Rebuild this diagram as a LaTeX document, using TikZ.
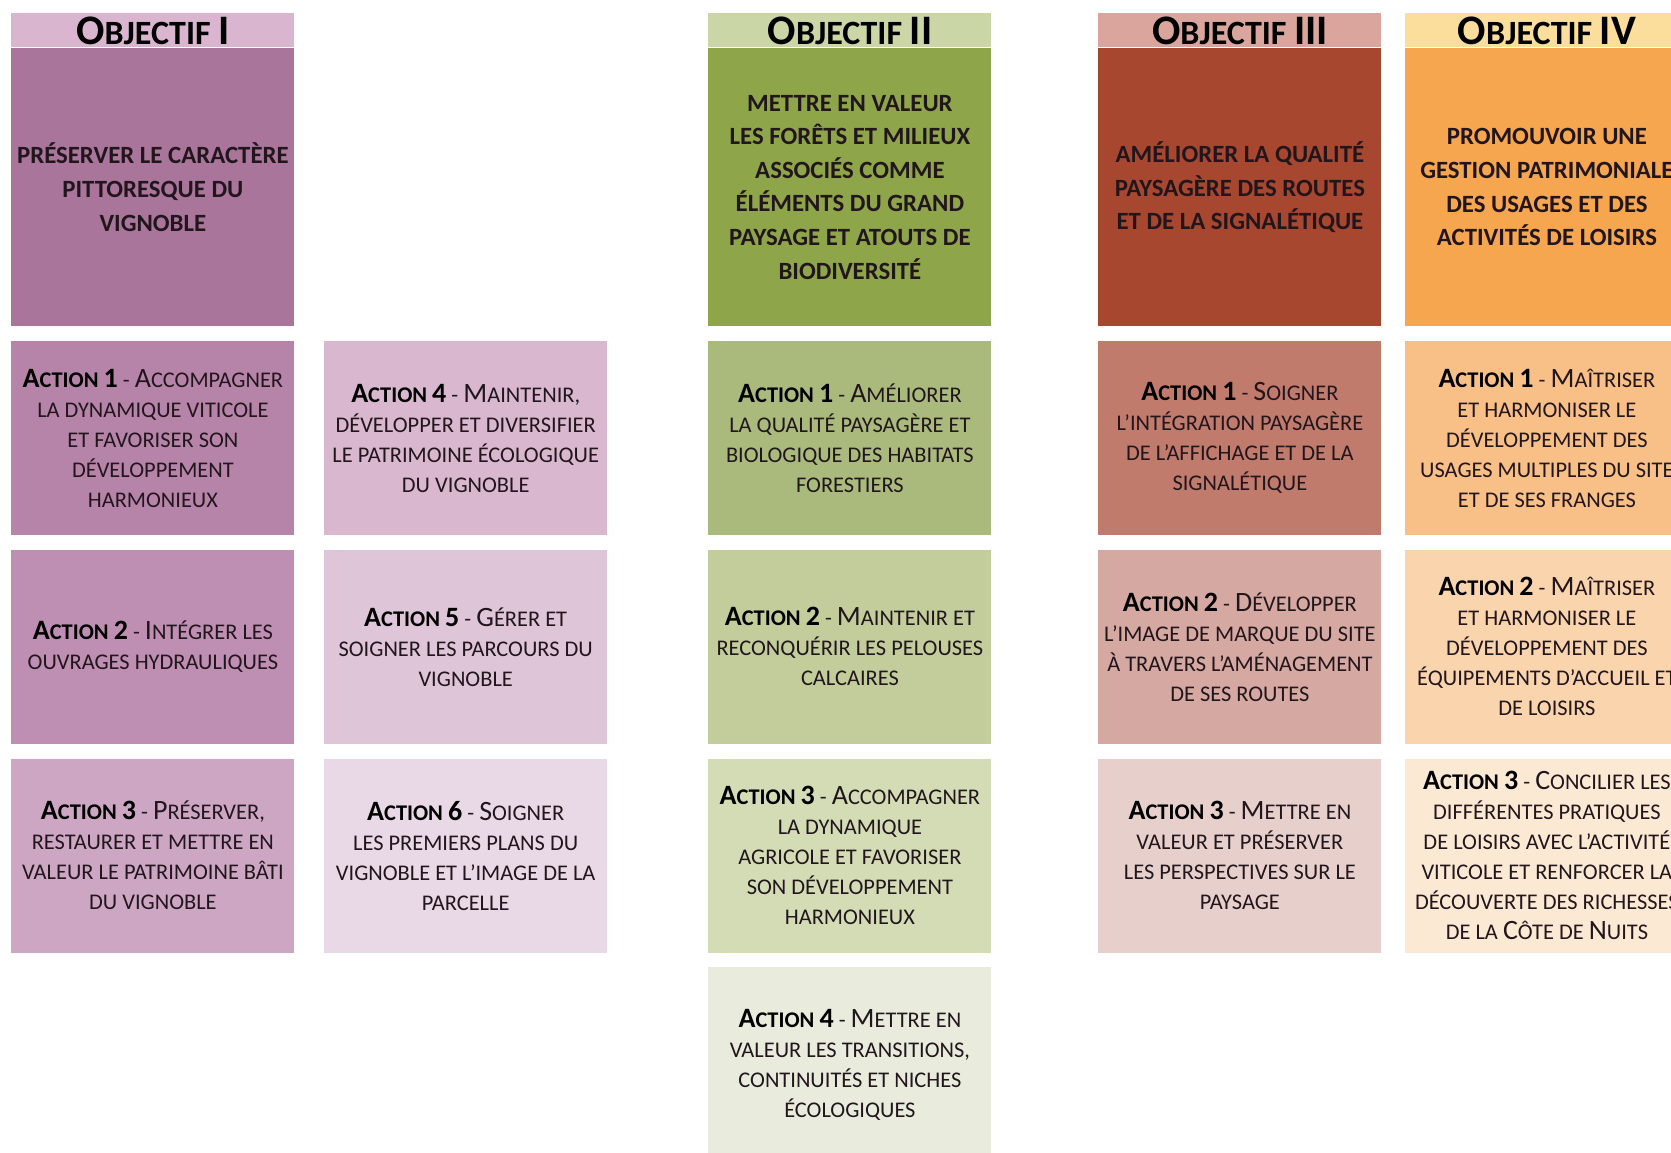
\documentclass[tikz,border=0pt]{standalone}
\usepackage{fontspec}
\setmainfont{Carlito}
\usetikzlibrary{positioning}
\definecolor{mauvehead}{HTML}{D9B5CF}
\definecolor{mauvemain}{HTML}{A9759B}
\definecolor{mauvea}{HTML}{B784A9}
\definecolor{mauveb}{HTML}{BE8FB2}
\definecolor{mauvec}{HTML}{CDA6C4}
\definecolor{mauved}{HTML}{D8B7CF}
\definecolor{mauvee}{HTML}{DEC5D8}
\definecolor{mauvef}{HTML}{E9D8E5}
\definecolor{greenhead}{HTML}{CAD6A5}
\definecolor{greenmain}{HTML}{8FA54A}
\definecolor{greena}{HTML}{A9BA7C}
\definecolor{greenb}{HTML}{C2CD9B}
\definecolor{greenc}{HTML}{D4DCB5}
\definecolor{greend}{HTML}{E9ECDD}
\definecolor{rusthead}{HTML}{D9A59C}
\definecolor{rustmain}{HTML}{A8472F}
\definecolor{rusta}{HTML}{C17B6C}
\definecolor{rustb}{HTML}{D5A9A1}
\definecolor{rustc}{HTML}{E7D0CC}
\definecolor{orangehead}{HTML}{FBDE9B}
\definecolor{orangemain}{HTML}{F6A64F}
\definecolor{orangea}{HTML}{F8BF86}
\definecolor{orangeb}{HTML}{FAD4AD}
\definecolor{orangec}{HTML}{FCE9D3}
\definecolor{inktext}{HTML}{22161D}
% small caps by hand: boxes are set in the small size, \ini gives a full capital
\newcommand{\ini}[1]{{\capsize #1}}
\newcommand{\act}[2]{{\bfseries\color{black}\ini{A}CTION \ini{#1}} - #2}

\begin{document}
\begin{tikzpicture}[
    x=0.5pt, y=-0.5pt,
    node distance=7pt,
    head/.style={minimum width=141.5pt, minimum height=17pt, inner sep=0pt, anchor=north west, font=\fontsize{17}{17}\selectfont\bfseries\def\capsize{\fontsize{21}{17}\selectfont}, text=black},
    objbox/.style={minimum width=141.5pt, minimum height=139pt, inner sep=0pt, align=center, font=\fontsize{12.4}{16.8}\selectfont\bfseries, text=inktext},
    actbox/.style={minimum width=141.5pt, minimum height=97pt, inner sep=0pt, align=center, font=\fontsize{11.2}{15}\selectfont\def\capsize{\fontsize{14}{15}\selectfont}, text=inktext}
]
    \clip (0,0) rectangle (1671,1152);
    \fill[white] (0,0) rectangle (1671,1152);

    % objectif I
    \node[head, fill=mauvehead] (head1) at (11,13) {\ini{O}BJECTIF \ini{I}};
    \node[objbox, fill=mauvemain, below=0pt of head1] (obj1) {PRÉSERVER LE CARACTÈRE\\PITTORESQUE DU\\VIGNOBLE};
    \node[actbox, fill=mauvea, below=of obj1] (ia1) {\act{1}{\ini{A}CCOMPAGNER}\\LA DYNAMIQUE VITICOLE\\ET FAVORISER SON\\DÉVELOPPEMENT\\HARMONIEUX};
    \node[actbox, fill=mauveb, below=of ia1] (ia2) {\act{2}{\ini{I}NTÉGRER LES}\\OUVRAGES HYDRAULIQUES};
    \node[actbox, fill=mauvec, below=of ia2] (ia3) {\act{3}{\ini{P}RÉSERVER,}\\RESTAURER ET METTRE EN\\VALEUR LE PATRIMOINE BÂTI\\DU VIGNOBLE};
    \node[actbox, fill=mauved, right=14.5pt of ia1] (ia4) {\act{4}{\ini{M}AINTENIR,}\\DÉVELOPPER ET DIVERSIFIER\\LE PATRIMOINE ÉCOLOGIQUE\\DU VIGNOBLE};
    \node[actbox, fill=mauvee, below=of ia4] (ia5) {\act{5}{\ini{G}ÉRER ET}\\SOIGNER LES PARCOURS DU\\VIGNOBLE};
    \node[actbox, fill=mauvef, below=of ia5] (ia6) {\act{6}{\ini{S}OIGNER}\\LES PREMIERS PLANS DU\\VIGNOBLE ET L’IMAGE DE LA\\PARCELLE};

    % objectif II
    \node[head, fill=greenhead] (head2) at (708,13) {\ini{O}BJECTIF \ini{II}};
    \node[objbox, fill=greenmain, below=0pt of head2] (obj2) {METTRE EN VALEUR\\LES FORÊTS ET MILIEUX\\ASSOCIÉS COMME\\ÉLÉMENTS DU GRAND\\PAYSAGE ET ATOUTS DE\\BIODIVERSITÉ};
    \node[actbox, fill=greena, below=of obj2] (iia1) {\act{1}{\ini{A}MÉLIORER}\\LA QUALITÉ PAYSAGÈRE ET\\BIOLOGIQUE DES HABITATS\\FORESTIERS};
    \node[actbox, fill=greenb, below=of iia1] (iia2) {\act{2}{\ini{M}AINTENIR ET}\\RECONQUÉRIR LES PELOUSES\\CALCAIRES};
    \node[actbox, fill=greenc, below=of iia2] (iia3) {\act{3}{\ini{A}CCOMPAGNER}\\LA DYNAMIQUE\\AGRICOLE ET FAVORISER\\SON DÉVELOPPEMENT\\HARMONIEUX};
    \node[actbox, fill=greend, below=of iia3] (iia4) {\act{4}{\ini{M}ETTRE EN}\\VALEUR LES TRANSITIONS,\\CONTINUITÉS ET NICHES\\ÉCOLOGIQUES};

    % objectif III
    \node[head, fill=rusthead] (head3) at (1098,13) {\ini{O}BJECTIF \ini{III}};
    \node[objbox, fill=rustmain, below=0pt of head3] (obj3) {AMÉLIORER LA QUALITÉ\\PAYSAGÈRE DES ROUTES\\ET DE LA SIGNALÉTIQUE};
    \node[actbox, fill=rusta, below=of obj3] (iiia1) {\act{1}{\ini{S}OIGNER}\\L’INTÉGRATION PAYSAGÈRE\\DE L’AFFICHAGE ET DE LA\\SIGNALÉTIQUE};
    \node[actbox, fill=rustb, below=of iiia1] (iiia2) {\act{2}{\ini{D}ÉVELOPPER}\\L’IMAGE DE MARQUE DU SITE\\À TRAVERS L’AMÉNAGEMENT\\DE SES ROUTES};
    \node[actbox, fill=rustc, below=of iiia2] (iiia3) {\act{3}{\ini{M}ETTRE EN}\\VALEUR ET PRÉSERVER\\LES PERSPECTIVES SUR LE\\PAYSAGE};

    % objectif IV
    \node[head, fill=orangehead] (head4) at (1405,13) {\ini{O}BJECTIF \ini{IV}};
    \node[objbox, fill=orangemain, below=0pt of head4] (obj4) {PROMOUVOIR UNE\\GESTION PATRIMONIALE\\DES USAGES ET DES\\ACTIVITÉS DE LOISIRS};
    \node[actbox, fill=orangea, below=of obj4] (iva1) {\act{1}{\ini{M}AÎTRISER}\\ET HARMONISER LE\\DÉVELOPPEMENT DES\\USAGES MULTIPLES DU SITE\\ET DE SES FRANGES};
    \node[actbox, fill=orangeb, below=of iva1] (iva2) {\act{2}{\ini{M}AÎTRISER}\\ET HARMONISER LE\\DÉVELOPPEMENT DES\\ÉQUIPEMENTS D’ACCUEIL ET\\DE LOISIRS};
    \node[actbox, fill=orangec, below=of iva2] (iva3) {\act{3}{\ini{C}ONCILIER LES}\\DIFFÉRENTES PRATIQUES\\DE LOISIRS AVEC L’ACTIVITÉ\\VITICOLE ET RENFORCER LA\\DÉCOUVERTE DES RICHESSES\\DE LA \ini{C}ÔTE DE \ini{N}UITS};
\end{tikzpicture}
\end{document}
